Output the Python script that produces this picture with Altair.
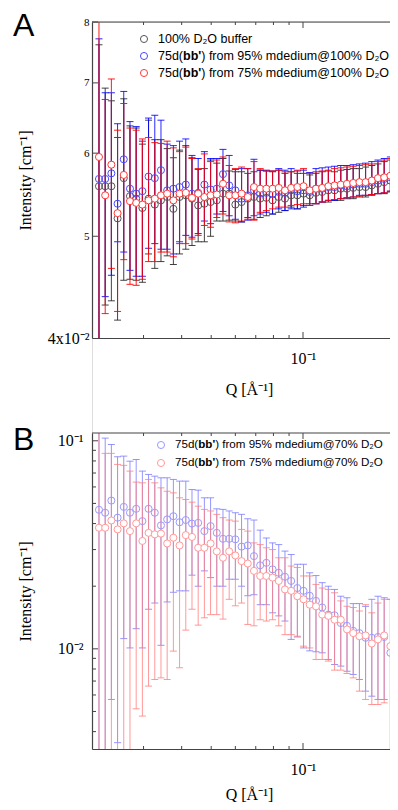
import altair as alt
import pandas as pd

# ---------------- data ----------------
# Q in 1/Angstrom
Q = [0.02143, 0.02246, 0.02353, 0.02466, 0.02584, 0.02708, 0.02838, 0.02974, 0.03116, 0.03266,
     0.03422, 0.03586, 0.03758, 0.03938, 0.04127, 0.04325, 0.04532, 0.04749, 0.04977, 0.05215,
     0.05465, 0.05727, 0.06001, 0.06289, 0.06590, 0.06906, 0.07237, 0.07584, 0.07947, 0.08328,
     0.08727, 0.09145, 0.09583, 0.1004, 0.1052, 0.1103, 0.1156, 0.1211, 0.1269, 0.1330,
     0.1394, 0.1461, 0.1531, 0.1604, 0.1681, 0.1761, 0.1846, 0.1934, 0.2027]

# Panel A, intensities in units of 1e-2 cm^-1
A_BUF = [5.58, 5.58, 5.58, 5.20, 5.68, 5.46, 5.43, 5.32, 5.43, 5.36,
         5.41, 5.45, 5.31, 5.45, 5.47, 5.43, 5.35, 5.37, 5.39, 5.41,
         5.49, 5.49, 5.36, 5.39, 5.43, 5.45, 5.43, 5.44, 5.41, 5.45,
         5.43, 5.47, 5.47, 5.49, 5.47, 5.50, 5.51, 5.53, 5.53, 5.55,
         5.55, 5.56, 5.57, 5.57, 5.59, 5.61, 5.63, 5.65, 5.68]
A_BUF_HI = [7.61, 6.92, 6.73, 6.21, 6.76, 6.37, 6.34, 6.12, 6.45, 6.18,
            6.18, 6.06, 5.94, 6.04, 6.10, 5.94, 5.79, 5.80, 5.91, 5.87,
            5.93, 5.77, 5.76, 5.76, 5.74, 5.76, 5.78, 5.77, 5.76, 5.78,
            5.74, 5.76, 5.74, 5.74, 5.72, 5.74, 5.76, 5.77, 5.76, 5.78,
            5.79, 5.80, 5.80, 5.82, 5.84, 5.86, 5.89, 5.91, 5.93]
A_BUF_LO = [3.90, 4.30, 4.34, 4.16, 4.54, 4.55, 4.54, 4.52, 4.81, 4.66,
            4.73, 4.79, 4.70, 4.81, 4.86, 4.90, 4.94, 4.94, 5.00, 5.17,
            5.17, 5.18, 5.17, 5.16, 5.21, 5.19, 5.21, 5.23, 5.25, 5.27,
            5.29, 5.33, 5.31, 5.35, 5.37, 5.37, 5.39, 5.39, 5.41, 5.41,
            5.43, 5.43, 5.45, 5.45, 5.47, 5.49, 5.49, 5.51, 5.53]

A_95 = [5.67, 5.67, 5.74, 5.37, 5.92, 5.55, 5.49, 5.52, 5.70, 5.68,
        5.78, 5.53, 5.55, 5.57, 5.60, 5.49, 5.50, 5.60, 5.54, 5.55,
        5.73, 5.59, 5.53, 5.43, 5.47, 5.53, 5.49, 5.50, 5.49, 5.51,
        5.50, 5.53, 5.52, 5.53, 5.51, 5.55, 5.55, 5.57, 5.57, 5.59,
        5.58, 5.60, 5.61, 5.61, 5.63, 5.65, 5.67, 5.69, 5.70]
A_95_HI = [7.71, 6.85, 6.85, 6.40, 6.87, 6.43, 6.36, 6.16, 6.48, 6.52,
           6.45, 6.12, 6.10, 6.16, 6.19, 5.97, 5.93, 6.02, 5.93, 5.93,
           6.05, 5.97, 5.79, 5.80, 5.80, 5.92, 5.78, 5.78, 5.77, 5.80,
           5.78, 5.80, 5.77, 5.78, 5.75, 5.80, 5.81, 5.82, 5.83, 5.84,
           5.84, 5.85, 5.86, 5.87, 5.89, 5.91, 5.93, 5.95, 5.97]
A_95_LO = [3.90, 4.38, 4.59, 4.94, 4.83, 4.64, 4.58, 4.58, 4.87, 4.92,
           4.86, 4.86, 4.81, 4.94, 5.01, 4.99, 5.03, 5.17, 5.14, 5.25,
           5.28, 5.23, 5.19, 5.16, 5.18, 5.23, 5.25, 5.27, 5.25, 5.31,
           5.29, 5.31, 5.31, 5.33, 5.35, 5.37, 5.39, 5.41, 5.41, 5.43,
           5.44, 5.45, 5.47, 5.47, 5.48, 5.49, 5.50, 5.52, 5.53]

A_75 = [5.95, 5.47, 5.85, 5.26, 5.72, 5.40, 5.38, 5.36, 5.41, 5.43,
        5.47, 5.49, 5.41, 5.49, 5.50, 5.44, 5.49, 5.45, 5.47, 5.48,
        5.61, 5.47, 5.47, 5.49, 5.45, 5.57, 5.55, 5.55, 5.55, 5.56,
        5.53, 5.56, 5.57, 5.58, 5.53, 5.55, 5.56, 5.58, 5.59, 5.60,
        5.61, 5.62, 5.63, 5.63, 5.65, 5.68, 5.69, 5.71, 5.74]
A_75_HI = [8.50, 6.75, 7.06, 6.31, 6.69, 6.34, 6.31, 6.19, 6.21, 6.14,
           6.13, 6.16, 6.07, 6.02, 6.08, 5.93, 5.80, 5.99, 5.89, 5.91,
           5.95, 5.84, 5.80, 5.82, 5.80, 5.89, 5.80, 5.77, 5.77, 5.78,
           5.76, 5.76, 5.78, 5.80, 5.74, 5.76, 5.77, 5.78, 5.80, 5.81,
           5.82, 5.83, 5.84, 5.85, 5.86, 5.89, 5.91, 5.93, 5.96]
A_75_LO = [3.90, 4.22, 4.66, 4.24, 4.75, 4.50, 4.49, 4.55, 4.73, 4.73,
           4.83, 4.83, 4.78, 4.92, 4.92, 4.97, 5.01, 5.12, 5.10, 5.21,
           5.25, 5.16, 5.15, 5.17, 5.19, 5.18, 5.27, 5.29, 5.31, 5.33,
           5.33, 5.35, 5.36, 5.37, 5.35, 5.37, 5.39, 5.41, 5.42, 5.43,
           5.44, 5.45, 5.46, 5.47, 5.48, 5.49, 5.50, 5.52, 5.53]

# Panel B, intensities in units of 1e-2 cm^-1
B_95 = [4.66, 4.51, 5.16, 4.27, 4.81, 4.51, 4.71, 4.11, 4.71, 4.51,
        3.92, 4.19, 4.34, 4.06, 4.16, 4.00, 4.03, 3.68, 3.89, 3.61,
        3.38, 3.38, 3.36, 3.10, 3.14, 2.79, 2.52, 2.59, 2.41, 2.32,
        2.22, 2.12, 1.96, 1.90, 1.80, 1.70, 1.58, 1.46, 1.45, 1.33,
        1.29, 1.22, 1.19, 1.13, 1.13, 1.14, 1.14, 0.957, 0.915]
B_95_HI = [11.5, 10.3, 9.60, 8.38, 8.44, 7.98, 8.13, 7.15, 6.89, 6.76,
           6.64, 6.64, 6.52, 6.40, 6.40, 5.83, 5.79, 5.32, 5.32, 4.71,
           4.68, 4.60, 4.51, 4.43, 4.22, 4.16, 3.72, 3.41, 3.23, 3.17,
           2.95, 2.84, 2.55, 2.55, 2.32, 2.25, 2.08, 2.00, 1.93, 1.79,
           1.76, 1.65, 1.65, 1.60, 1.73, 1.79, 1.76, 1.73, 1.73]
B_95_LO = [0.30, 0.30, 0.571, 0.354, 1.12, 1.01, 1.25, 1.01, 1.55, 1.66,
           1.04, 1.68, 1.87, 1.90, 1.90, 2.26, 2.00, 2.37, 2.20, 2.00,
           2.00, 2.16, 2.16, 2.00, 1.80, 1.82, 1.63, 1.63, 1.49, 1.44,
           1.36, 1.11, 1.14, 1.01, 0.978, 0.968, 0.957, 0.889, 0.841, 0.826,
           0.781, 0.753, 0.712, 0.626, 0.592, 0.571, 0.571, 0.30, 0.30]

B_75 = [3.82, 3.82, 4.14, 3.75, 4.01, 3.68, 4.01, 3.30, 3.61, 3.55,
        3.58, 3.21, 3.42, 3.14, 3.52, 3.45, 3.06, 3.06, 3.21, 2.94,
        2.74, 2.94, 2.81, 2.64, 2.57, 2.37, 2.24, 2.24, 2.20, 2.12,
        1.93, 1.90, 1.79, 1.73, 1.63, 1.60, 1.46, 1.44, 1.38, 1.38,
        1.24, 1.19, 1.15, 1.16, 1.06, 1.11, 1.16, 1.03, 0.975]
B_75_HI = [12.0, 8.70, 8.70, 7.70, 7.62, 7.15, 6.33, 6.28, 6.52, 6.28,
           5.94, 5.72, 5.62, 5.32, 5.22, 5.07, 4.85, 4.68, 4.60, 4.43,
           4.27, 4.16, 4.11, 3.75, 3.68, 3.23, 3.17, 3.06, 3.00, 2.74,
           2.74, 2.50, 2.46, 2.24, 2.24, 2.04, 1.96, 1.93, 1.86, 1.70,
           1.60, 1.58, 1.52, 1.63, 1.49, 1.66, 1.73, 1.73, 1.73]
B_75_LO = [0.30, 0.30, 0.30, 0.30, 0.30, 0.30, 0.515, 0.475, 0.662, 0.712,
           0.725, 0.712, 0.975, 0.811, 1.23, 1.55, 1.30, 1.41, 1.46, 1.46,
           1.39, 1.73, 1.61, 1.66, 1.31, 1.29, 1.38, 1.36, 1.38, 1.29,
           1.17, 1.17, 1.15, 1.03, 1.01, 0.889, 0.889, 0.873, 0.790, 0.790,
           0.762, 0.725, 0.626, 0.571, 0.540, 0.540, 0.550, 0.30, 0.30]

# axis tick positions
X_MINOR = [0.03, 0.04, 0.05, 0.06, 0.07, 0.08, 0.09]
X_MAJOR = [0.1]
A_YMAJOR = [0.05, 0.06, 0.07, 0.08]
B_YMAJOR = [0.01, 0.1]
B_YMINOR = [0.004, 0.005, 0.006, 0.007, 0.008, 0.009,
            0.02, 0.03, 0.04, 0.05, 0.06, 0.07, 0.08, 0.09]

LEG_A = ["100% D₂O buffer", "75d(", "bb'", ") from 95% mdedium@100% D₂O",
         "75d(", "bb'", ") from 75% mdedium@100% D₂O"]
LEG_B = ["75d(", "bb'", ") from 95% mdedium@70% D₂O",
         "75d(", "bb'", ") from 75% mdedium@70% D₂O"]

# ---------------- layout / styling ----------------
W = 298          # plot width (runs to the right edge of the drawable page area)
H = 316          # height of each panel's plot area
B_TOP = 411      # top of panel B's plot area inside the shared group
HT = B_TOP + H   # total group height
SERIF = "Liberation Serif"
SANS = "Liberation Sans"
AX = "#444444"
FS_A = 12.5
FS_B = 11.6
XDOM = [0.02033, 0.19286]
YDOM_A = [0.04, 0.08]
YDOM_B = [0.0033, 0.109]


def x_axis(offset, title_y):
    return alt.Axis(values=[0.1], labelExpr="'10⁻¹'", ticks=False, grid=False, domain=True,
                    domainColor=AX, domainWidth=1.2, labelFont=SERIF, labelFontSize=16,
                    labelColor="black", labelPadding=12, labelFlush=False, labelOverlap=False,
                    title="Q [Å⁻¹]", titleFont=SERIF, titleFontSize=16, titleFontWeight="normal",
                    titleColor="black", titleX=157, titleY=title_y, titleAlign="center",
                    titleBaseline="middle", orient="bottom", offset=offset)


def y_axis_a():
    return alt.Axis(values=[0.04, 0.05, 0.06, 0.07, 0.08], orient="left",
                    labelExpr="datum.value < 0.045 ? '4x10⁻²' : format(datum.value * 100, 'd')",
                    labelFontSize={"condition": {"test": "datum.value < 0.045", "value": 16}, "value": 11},
                    ticks=False, grid=False, domain=True, domainColor=AX, domainWidth=1.2,
                    labelFont=SERIF, labelColor="black", labelPadding=3, labelOverlap=False,
                    labelFlush=False, title="Intensity [cm⁻¹]", titleFont=SERIF, titleFontSize=16,
                    titleFontWeight="normal", titleColor="black", titleX=-67, titleY=H / 2,
                    titleAngle=270, titleAlign="center", titleBaseline="middle")


def y_axis_b():
    return alt.Axis(values=[0.01, 0.1], orient="left",
                    labelExpr="datum.value > 0.05 ? '10⁻¹' : '10⁻²'",
                    labelFontSize=16, ticks=False, grid=False, domain=True, domainColor=AX,
                    domainWidth=1.2, labelFont=SERIF, labelColor="black", labelPadding=9,
                    labelOverlap=False, labelFlush=False, title="Intensity [cm⁻¹]",
                    titleFont=SERIF, titleFontSize=16, titleFontWeight="normal",
                    titleColor="black", titleX=-67, titleY=B_TOP + H / 2, titleAngle=270,
                    titleAlign="center", titleBaseline="middle")


class Panel:
    def __init__(self, y0, ydom, yaxis, xaxis):
        self.y0 = y0
        self.ydom = ydom
        self.ys = alt.Scale(type="log", domain=ydom, range=[y0 + H, y0], nice=False, clamp=True)
        self.xs = alt.Scale(type="log", domain=XDOM, nice=False)
        self.yaxis = yaxis
        self.xaxis = xaxis

    def xenc(self, f):
        return alt.X(f + ":Q", scale=self.xs, axis=self.xaxis)

    def yenc(self, f):
        return alt.Y(f + ":Q", scale=self.ys, axis=self.yaxis)

    def bars(self, df, color, op):
        base = alt.Chart(df)
        lo_d, hi_d = self.ydom
        rule = base.mark_rule(color=color, strokeWidth=1, opacity=op, clip=True).encode(
            x=self.xenc("q"), y=self.yenc("lo"), y2="hi:Q")
        cap_lo = base.transform_filter(f"datum.lo > {lo_d}").mark_tick(
            orient="horizontal", size=7, thickness=1, color=color, opacity=op, clip=True).encode(
            x=self.xenc("q"), y=self.yenc("lo"))
        cap_hi = base.transform_filter(f"datum.hi < {hi_d}").mark_tick(
            orient="horizontal", size=7, thickness=1, color=color, opacity=op, clip=True).encode(
            x=self.xenc("q"), y=self.yenc("hi"))
        return [rule, cap_lo, cap_hi]

    def dots(self, df, stroke, filled_white):
        if filled_white:
            m = alt.Chart(df).mark_point(shape="circle", filled=True, fill="white", stroke=stroke,
                                         strokeWidth=1, size=50, opacity=1, clip=True)
        else:
            m = alt.Chart(df).mark_point(shape="circle", filled=False, color=stroke,
                                         strokeWidth=1, size=50, opacity=1, clip=True)
        return m.encode(x=self.xenc("q"), y=self.yenc("I"))

    def frame(self, ymajor, yminor):
        y0 = self.y0
        one = pd.DataFrame({"a": [0]})
        lay = [alt.Chart(one).mark_rule(color=AX, strokeWidth=1.2).encode(
            x=alt.value(0), x2=alt.value(W + 2), y=alt.value(y0))]
        for vals, ln in ((X_MINOR, 3), (X_MAJOR, 6)):
            d = pd.DataFrame({"v": vals})
            lay.append(alt.Chart(d).mark_rule(color=AX, strokeWidth=1, clip=True).encode(
                x=self.xenc("v"), y=alt.value(y0 + H), y2=alt.value(y0 + H - ln)))
            lay.append(alt.Chart(d).mark_rule(color=AX, strokeWidth=1, clip=True).encode(
                x=self.xenc("v"), y=alt.value(y0), y2=alt.value(y0 + ln)))
        lay.append(alt.Chart(pd.DataFrame({"v": ymajor})).mark_rule(color=AX, strokeWidth=1).encode(
            y=self.yenc("v"), x=alt.value(0), x2=alt.value(6)))
        if yminor:
            lay.append(alt.Chart(pd.DataFrame({"v": yminor})).mark_rule(color=AX, strokeWidth=1).encode(
                y=self.yenc("v"), x=alt.value(0), x2=alt.value(4)))
        return lay


def table(c, lo, hi):
    return pd.DataFrame({"q": Q, "I": [v * 0.01 for v in c],
                         "lo": [v * 0.01 for v in lo], "hi": [v * 0.01 for v in hi]})


def txt(s, x, y, size, weight="normal", font=SANS, color="black", baseline="middle"):
    return alt.Chart(pd.DataFrame({"a": [0]})).mark_text(
        text=s, font=font, fontSize=size, fontWeight=weight, color=color, align="left",
        baseline=baseline).encode(x=alt.value(x), y=alt.value(y))


def legend_dot(x, y, stroke):
    return alt.Chart(pd.DataFrame({"a": [0]})).mark_point(
        shape="circle", filled=False, color=stroke, strokeWidth=1, size=50, opacity=1).encode(
        x=alt.value(x), y=alt.value(y))


def rich_row(parts, x, y, fs):
    w1 = 2.001 * fs
    w2 = 1.46 * fs
    return [txt(parts[0], x, y, fs), txt(parts[1], x + w1, y, fs, weight="bold"),
            txt(parts[2], x + w1 + w2, y, fs)]


# ---------------- panel A ----------------
pa = Panel(0, YDOM_A, y_axis_a(), x_axis(B_TOP * -1, 51.5))
a_series = [
    (table(A_BUF, A_BUF_LO, A_BUF_HI), "#222222", "#555555", False, 0.85),
    (table(A_95, A_95_LO, A_95_HI), "#0000ff", "#4a4aff", False, 0.85),
    (table(A_75, A_75_LO, A_75_HI), "#ff0000", "#ff3a3a", True, 0.9),
]
a_layers = []
for df, bc, sc, fw, op in a_series:
    a_layers += pa.bars(df, bc, op)
for df, bc, sc, fw, op in a_series:
    a_layers.append(pa.dots(df, sc, fw))
a_layers += pa.frame(A_YMAJOR, None)
a_layers += [legend_dot(52, 17, "#555555"), legend_dot(52, 34, "#4a4aff"),
             legend_dot(52, 51, "#ff3a3a"), txt(LEG_A[0], 66, 17, FS_A)]
a_layers += rich_row(LEG_A[1:4], 66, 34, FS_A)
a_layers += rich_row(LEG_A[4:7], 66, 51, FS_A)
a_layers.append(txt("A", -79, -11, 32, baseline="top"))
layer_a = alt.layer(*a_layers)

# ---------------- panel B ----------------
pb = Panel(B_TOP, YDOM_B, y_axis_b(), x_axis(0, 45))
b_series = [
    (table(B_95, B_95_LO, B_95_HI), "#7a7aff", "#9a9aff", False, 0.8),
    (table(B_75, B_75_LO, B_75_HI), "#ff8080", "#ff9a9a", True, 0.8),
]
b_layers = []
for df, bc, sc, fw, op in b_series:
    b_layers += pb.bars(df, bc, op)
for df, bc, sc, fw, op in b_series:
    b_layers.append(pb.dots(df, sc, fw))
b_layers += pb.frame(B_YMAJOR, B_YMINOR)
b_layers += [legend_dot(69, B_TOP + 12, "#9a9aff"), legend_dot(69, B_TOP + 30, "#ff9a9a")]
b_layers += rich_row(LEG_B[0:3], 83, B_TOP + 12, FS_B)
b_layers += rich_row(LEG_B[3:6], 83, B_TOP + 30, FS_B)
b_layers.append(txt("B", -79, B_TOP - 8, 32, baseline="top"))
layer_b = alt.layer(*b_layers)

chart = alt.layer(layer_a, layer_b).resolve_scale(
    x="independent", y="independent"
).properties(
    width=W, height=HT,
    autosize=alt.AutoSizeParams(type="none"),
    padding={"left": 84, "top": 14, "right": 0, "bottom": 53},
).configure_view(stroke=None).configure(background="white")

chart.save("out.html", embed_options={"renderer": "svg", "actions": False})
